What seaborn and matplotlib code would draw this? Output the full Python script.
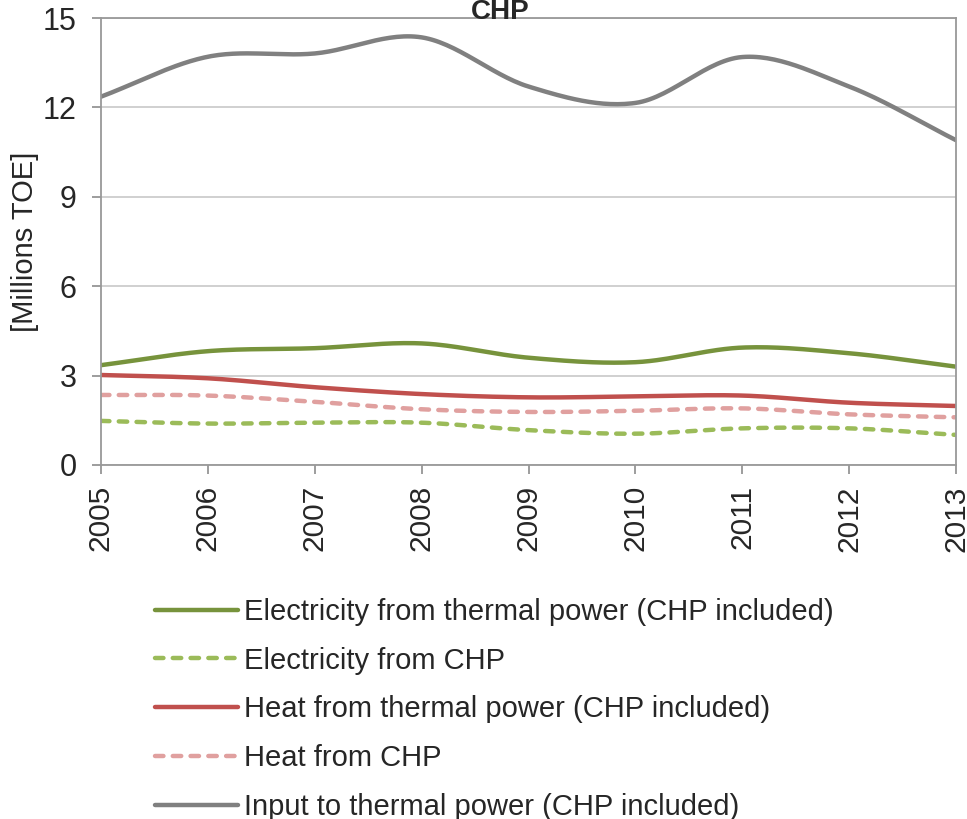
import numpy as np
import pandas as pd
import matplotlib
matplotlib.use("Agg")
import matplotlib.pyplot as plt
import seaborn as sns

# ── Data (Millions TOE) ──────────────────────────────────────────────────────
years = [2005, 2006, 2007, 2008, 2009, 2010, 2011, 2012, 2013]
elec_thermal = [3.35, 3.82, 3.92, 4.08, 3.60, 3.45, 3.94, 3.75, 3.30]
elec_chp = [1.48, 1.39, 1.42, 1.42, 1.17, 1.05, 1.23, 1.23, 1.01]
heat_thermal = [3.02, 2.91, 2.61, 2.38, 2.27, 2.30, 2.33, 2.09, 1.98]
heat_chp = [2.35, 2.33, 2.12, 1.87, 1.78, 1.82, 1.90, 1.70, 1.60]
input_thermal = [12.36, 13.70, 13.81, 14.35, 12.70, 12.15, 13.69, 12.70, 10.90]

labels = [
    "Electricity from thermal power (CHP included)",
    "Electricity from CHP",
    "Heat from thermal power (CHP included)",
    "Heat from CHP",
    "Input to thermal power (CHP included)",
]
series = [elec_thermal, elec_chp, heat_thermal, heat_chp, input_thermal]
colors = ["#77933C", "#9BBB59", "#C0504D", "#E0A09F", "#808080"]
dashed = [False, True, False, True, False]


def smooth(x, y, n=30):
    # Catmull-Rom curve through the points, like Excel's "smoothed line"
    x = np.asarray(x, float)
    y = np.asarray(y, float)
    px = np.concatenate([[2 * x[0] - x[1]], x, [2 * x[-1] - x[-2]]])
    py = np.concatenate([[2 * y[0] - y[1]], y, [2 * y[-1] - y[-2]]])
    xs, ys = [], []
    t = np.linspace(0, 1, n, endpoint=False)
    for i in range(1, len(px) - 2):
        for p, out in ((px, xs), (py, ys)):
            p0, p1, p2, p3 = p[i - 1], p[i], p[i + 1], p[i + 2]
            out.append(0.5 * ((2 * p1) + (-p0 + p2) * t
                              + (2 * p0 - 5 * p1 + 4 * p2 - p3) * t ** 2
                              + (-p0 + 3 * p1 - 3 * p2 + p3) * t ** 3))
    xs = np.concatenate(xs + [[x[-1]]])
    ys = np.concatenate(ys + [[y[-1]]])
    return xs, ys


sns.set_theme(style="white")
plt.rcParams["font.family"] = ["Liberation Sans", "DejaVu Sans"]

fig = plt.figure(figsize=(9.67, 8.19), dpi=100)
ax = fig.add_axes([101 / 967, 1 - 465 / 819, (956 - 101) / 967, (465 - 18) / 819])

for vals, lab, col, dsh in zip(series, labels, colors, dashed):
    sx, sy = smooth(years, vals)
    df = pd.DataFrame({"year": sx, "value": sy})
    if dsh:
        sns.lineplot(data=df, x="year", y="value", ax=ax, color=col, lw=3.2,
                     linestyle=(0, (1.9, 2.1)), dash_capstyle="round",
                     label=lab, sort=False, estimator=None)
    else:
        sns.lineplot(data=df, x="year", y="value", ax=ax, color=col, lw=3.2,
                     label=lab, sort=False, estimator=None)

ax.set_xlim(2005, 2013)
ax.set_ylim(0, 15)
ax.set_xticks(years)
ax.set_xticklabels([str(y) for y in years], rotation=90, fontsize=21.5)
ax.set_yticks([0, 3, 6, 9, 12, 15])
ax.tick_params(axis="y", labelsize=22, length=6.5, width=1.2, color="#8c8c8c",
               left=True, pad=11)
ax.tick_params(axis="x", length=6.5, width=1.2, color="#8c8c8c", bottom=True, pad=8)
ax.yaxis.grid(True, color="#c8c8c8", lw=1.2)
ax.xaxis.grid(False)
for sp in ax.spines.values():
    sp.set_color("#999999")
    sp.set_linewidth(1.3)
ax.set_xlabel("")
ax.set_ylabel("[Millions TOE]", fontsize=21, labelpad=3)

fig.text(500 / 967, 1 - 12 / 819, "CHP", ha="center", va="center",
         fontsize=20, fontweight="bold")

handles, leg_labels = ax.get_legend_handles_labels()
ax.get_legend().remove()
fig.legend(handles, leg_labels, loc="upper left",
           bbox_to_anchor=(155 / 967, 1 - 598 / 819), frameon=False,
           borderpad=0, borderaxespad=0,
           fontsize=21, handlelength=2.85, handletextpad=0.2, labelspacing=0.71)

fig.savefig("out.png", dpi=100)
